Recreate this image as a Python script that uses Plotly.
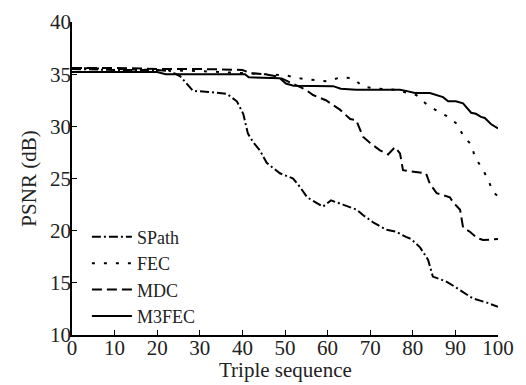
import plotly.graph_objects as go

# ---- data ----
spath_x = [0, 10, 20, 23, 25.4, 28.4, 32, 36.4, 38.7, 40.2, 41.3, 42.5, 44.1, 45.7, 48.8, 51.9, 53.5, 55.2,
           58.9, 60.8, 63.6, 66.9, 68.3, 70.7, 73.7, 76.1, 78.4, 79.6, 81.7, 83.6, 84.7, 88, 91.1, 94.1, 97.4, 100]
spath_y = [35.5, 35.4, 35.4, 35.3, 34.8, 33.4, 33.3, 33.1, 32.4, 31.2, 29.3, 28.5, 27.7, 26.5, 25.5, 25.0, 24.2, 23.2,
           22.3, 22.9, 22.5, 22.0, 21.5, 20.8, 20.1, 19.9, 19.4, 19.2, 18.4, 17.2, 15.6, 15.1, 14.3, 13.5, 13.1, 12.7]

fec_x = [0, 10, 20, 30, 40, 45, 50, 53.5, 57, 60, 63, 66, 68.3, 72, 76, 80.8, 83, 85.2, 87.9, 90.5, 91.8,
         93.8, 94.6, 96.1, 97.7, 98.8, 100]
fec_y = [35.6, 35.5, 35.4, 35.3, 35.1, 35.0, 34.9, 34.6, 34.4, 34.3, 34.7, 34.6, 33.8, 33.6, 33.5, 33.0, 32.2,
         31.6, 31.0, 30.2, 29.1, 28.2, 27.0, 26.1, 24.9, 23.7, 23.3]

mdc_x = [0, 10, 20, 30, 40, 42, 45, 48, 50.2, 52.6, 54.9, 56.6, 59.6, 62.9, 65.3, 66.7, 67.6, 68.3, 70, 72.3,
         74.2, 75.8, 77, 77.7, 79.3, 83.1, 84, 85.6, 88.7, 89.5, 91.1, 91.8, 93.4, 95.1, 96.5, 100]
mdc_y = [35.6, 35.6, 35.5, 35.5, 35.4, 35.1, 35.0, 34.8, 34.4, 33.9, 33.5, 33.0, 32.5, 31.6, 30.7, 30.6, 29.6,
         29.0, 28.4, 27.7, 27.3, 28.0, 27.4, 25.8, 25.7, 25.5, 24.5, 23.6, 23.2, 22.7, 22.0, 20.3, 19.9, 19.3,
         19.1, 19.2]

m3fec_x = [0, 10, 20, 22, 40.6, 41.5, 48.8, 50.2, 52, 61.3, 63.1, 66.7, 77, 78.4, 80.5, 84, 85.4, 87.1, 88.3,
           90.1, 91.8, 93.7, 94.8, 96, 96.9, 98.4, 100]
m3fec_y = [35.2, 35.2, 35.2, 35.0, 35.0, 34.7, 34.6, 34.1, 33.9, 33.85, 33.6, 33.5, 33.5, 33.4, 33.2, 33.2,
           33.0, 32.8, 32.4, 32.4, 32.2, 31.3, 31.2, 30.9, 30.8, 30.2, 29.8]

names = ["SPath", "FEC", "MDC", "M3FEC"]
xs = [spath_x, fec_x, mdc_x, m3fec_x]
ys = [spath_y, fec_y, mdc_y, m3fec_y]
dashes = ["9px,3px,2px,3px", "3px,9px", "10px,5px", "solid"]

x_ticks = [0, 10, 20, 30, 40, 50, 60, 70, 80, 90, 100]
y_ticks = [10, 15, 20, 25, 30, 35, 40]
x_title = "Triple sequence"
y_title = "PSNR (dB)"

FONT = "Liberation Serif, Times New Roman, serif"

fig = go.Figure()
for n, x, y, d in zip(names, xs, ys, dashes):
    fig.add_trace(go.Scatter(x=x, y=y, name=n, mode="lines",
                             line=dict(color="black", width=2, dash=d)))

fig.update_layout(
    width=526, height=385,
    margin=dict(l=72, r=28, t=22, b=50),
    paper_bgcolor="white", plot_bgcolor="white",
    font=dict(family=FONT, size=21, color="#222"),
    showlegend=True,
    legend=dict(x=0.035, y=0.372, xanchor="left", yanchor="top",
                bgcolor="rgba(0,0,0,0)", borderwidth=0,
                font=dict(family=FONT, size=18, color="#222"),
                itemwidth=40, tracegroupgap=0),
    annotations=[dict(text=x_title, xref="paper", yref="paper", x=0.5, y=-0.112,
                      xanchor="center", yanchor="middle", showarrow=False,
                      font=dict(family=FONT, size=21, color="#222"))],
)
fig.update_xaxes(range=[0, 100], tickvals=x_ticks, showgrid=False, zeroline=False,
                 showline=True, linecolor="black", linewidth=1.5, automargin=False,
                 ticks="inside", ticklen=5, tickcolor="black", tickwidth=1,
                 ticklabelstandoff=-7,
                 tickfont=dict(family=FONT, size=21))
fig.update_yaxes(range=[10, 40], tickvals=y_ticks, showgrid=False, zeroline=False,
                 showline=True, linecolor="black", linewidth=1.5, automargin=False,
                 ticks="inside", ticklen=5, tickcolor="black", tickwidth=1,
                 ticklabelstandoff=-5,
                 title=dict(text=y_title, standoff=8,
                            font=dict(family=FONT, size=21)),
                 tickfont=dict(family=FONT, size=21))

fig.write_html("out.html")
